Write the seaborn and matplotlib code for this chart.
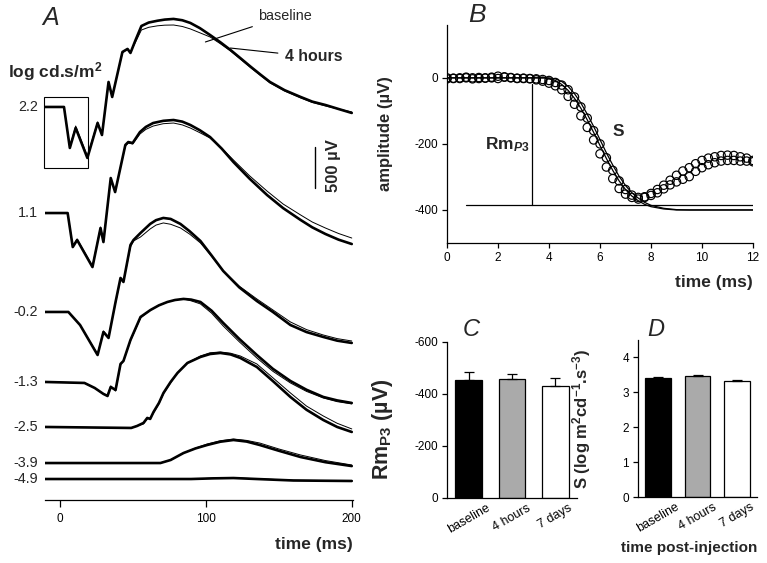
import numpy as np
import pandas as pd
import matplotlib
matplotlib.use("Agg")
import matplotlib.pyplot as plt
from matplotlib.patches import Rectangle
import seaborn as sns

# ---------------- Panel A: ERG traces, ms vs uV (relative to pre-flash level) ----------------
intensities = ["2.2", "1.1", "-0.2", "-1.3", "-2.5", "-3.9", "-4.9"]

t_22 = [-10, 3, 7, 11, 19, 26, 29, 33.5, 36, 43, 46.5, 48.5, 52, 56, 61, 67, 72, 78, 84, 89.5,
        96, 103, 110, 117, 124, 131, 137.5, 144, 154, 165, 173, 182, 191, 200]
h4_22 = [0, 0, -500, -256, -622, -195, -342, 305, 122, 671, 708, 659, 817, 988, 1030, 1052, 1066, 1074, 1058, 1025,
         962, 878, 790, 695, 592, 488, 395, 305, 205, 122, 65, 24, -25, -73]
base_22 = [0, 0, -488, -232, -598, -183, -329, 293, 134, 659, 708, 671, 793, 939, 972, 990, 998, 1000, 982, 952,
           905, 854, 772, 683, 580, 476, 384, 293, 195, 110, 55, 12, -25, -61]

t_11 = [-10, 5.5, 9, 12, 22.5, 28, 30, 35, 38, 45, 47, 50, 55, 59, 64, 71, 78, 84, 89.5,
        96, 103, 111, 119, 130, 142, 153, 165, 173, 182, 191, 200]
h4_11 = [0, 0, -415, -329, -659, -183, -354, 427, 256, 830, 866, 854, 988, 1050, 1098, 1125, 1135, 1115, 1074,
         1010, 927, 785, 622, 420, 220, 60, -85, -175, -256, -325, -378]
base_11 = [0, 0, -403, -317, -647, -171, -342, 415, 268, 818, 854, 842, 964, 1020, 1061, 1090, 1098, 1075, 1037,
           980, 915, 790, 647, 455, 268, 110, -24, -110, -183, -250, -305]

t_m02 = [-10, 6, 14, 18, 26, 30, 33.5, 38.3, 41.7, 43.7, 48.5, 50.6, 55.4, 62, 66, 71, 76, 82.7, 89,
         96.4, 104, 112, 123, 135, 146, 158, 169, 180.5, 190, 200]
h4_m02 = [0, 0, -159, -281, -525, -244, -317, 122, 415, 366, 817, 878, 964, 1074, 1120, 1147, 1135, 1074, 985,
          866, 690, 500, 300, 134, 0, -159, -245, -305, -350, -378]
base_m02 = [0, 0, -159, -281, -513, -232, -305, 110, 403, 366, 793, 866, 915, 1013, 1060, 1086, 1070, 1025, 950,
            842, 680, 500, 315, 159, 25, -122, -215, -281, -325, -354]

t_m13 = [-10, 17, 24, 30, 32.8, 35, 38.3, 41.7, 43.7, 48.5, 55.4, 62.2, 68, 73.8, 79, 84.8, 90,
         96.4, 104, 112, 123, 135, 146, 158, 169, 180.5, 190, 200]
h4_m13 = [0, -12, -73, -146, -171, -61, -98, 220, 256, 512, 793, 878, 935, 976, 1000, 1013, 1005,
          976, 870, 720, 525, 329, 160, 12, -95, -183, -225, -256]
base_m13 = [0, -12, -73, -146, -159, -49, -110, 207, 256, 500, 781, 878, 935, 976, 1000, 1013, 990,
            952, 840, 683, 490, 293, 130, -12, -115, -195, -240, -268]

t_m25 = [-10, 49, 53, 57.4, 60, 62, 64.3, 68, 71.1, 76, 80.7, 87.5, 96.4, 103, 110, 117, 123.7, 129,
         135, 146, 158, 169, 180.5, 190, 200]
h4_m25 = [0, -12, 12, 49, 110, 98, 183, 293, 415, 549, 659, 781, 854, 890, 903, 885, 842, 790,
          732, 560, 366, 210, 85, 0, -61]
base_m25 = [0, -12, 12, 37, 98, 110, 171, 281, 403, 537, 659, 781, 866, 905, 915, 900, 866, 820,
            769, 600, 415, 255, 134, 45, -24]

t_m39 = [-10, 69, 76, 84.8, 93, 101, 110, 119, 128, 137, 150, 165, 182, 200]
h4_m39 = [0, 0, 37, 122, 178, 220, 260, 281, 262, 220, 150, 73, 10, -37]
base_m39 = [0, 0, 37, 122, 182, 232, 272, 293, 276, 244, 172, 98, 30, -24]

t_m49 = [-10, 90, 105, 119, 135, 160, 200]
h4_m49 = [0, 0, 8, 12, 0, -18, -24]
base_m49 = [0, 0, 10, 15, 3, -15, -22]

trace_times = [t_22, t_11, t_m02, t_m13, t_m25, t_m39, t_m49]
trace_4h = [h4_22, h4_11, h4_m02, h4_m13, h4_m25, h4_m39, h4_m49]
trace_base = [base_22, base_11, base_m02, base_m13, base_m25, base_m39, base_m49]

# vertical stacking of the traces (layout, in uV)
stack_offsets = [4795, 3501, 2294, 1440, 891, 451, 256]

# ---------------- Panel B: a-wave leading edge with model fits ----------------
b_time = [0, 0.25, 0.5, 0.75, 1, 1.25, 1.5, 1.75, 2, 2.25, 2.5, 2.75, 3, 3.25, 3.5, 3.75,
          4, 4.25, 4.5, 4.75, 5, 5.25, 5.5, 5.75, 6, 6.25, 6.5, 6.75, 7, 7.25, 7.5, 7.75,
          8, 8.25, 8.5, 8.75, 9, 9.25, 9.5, 9.75, 10, 10.25, 10.5, 10.75, 11, 11.25, 11.5, 11.75, 12]
b_circ_a = [-3, -2, 0, 2, 0, 1, -1, 2, 5, 3, 1, -1, -2, -3, -6, -10,
            -16, -24, -36, -56, -80, -115, -150, -188, -230, -270, -305, -335, -352, -362, -367, -360,
            -350, -338, -325, -310, -295, -282, -272, -260, -250, -243, -239, -235, -234, -235, -239, -243, -250]
b_circ_b = [0, -1, -2, 0, -3, -2, 0, 0, -2, 2, 0, -2, -1, -2, -3, -5,
            -8, -14, -22, -36, -58, -88, -122, -160, -200, -242, -280, -312, -338, -355, -362, -362,
            -356, -348, -336, -324, -315, -307, -299, -283, -272, -263, -257, -252, -250, -250, -252, -252, -254]

fit_time = [0, 3.8, 4.0, 4.25, 4.5, 4.75, 5.0, 5.25, 5.5, 5.75, 6.0, 6.25, 6.5, 6.75,
            7.0, 7.25, 7.5, 7.75, 8.0, 8.5, 9.0, 9.5, 10.0, 12.0]
fit_a = [0, 0, -2, -8, -20, -38, -62, -92, -127, -165, -205, -244, -280, -312,
         -338, -358, -372, -383, -390, -397, -400, -400, -400, -400]
fit_b = [0, 0, 0, -3, -11, -26, -48, -76, -110, -147, -187, -227, -264, -298,
         -326, -348, -364, -377, -386, -395, -399, -400, -400, -400]

rm_level = -385
rm_time = 3.35

# ---------------- Panels C and D: group summaries ----------------
conditions = ["baseline", "4 hours", "7 days"]
rm_mean = [-454, -458, -431]
rm_err = [31, 19, 31]
s_mean = [3.41, 3.46, 3.33]
s_err = [0.02, 0.03, 0.02]
bar_colors = ["black", "#aaaaaa", "white"]

# ---------------- style ----------------
sns.set_theme(style="ticks")
plt.rcParams["font.family"] = ["Liberation Sans", "DejaVu Sans"]
plt.rcParams["axes.unicode_minus"] = False
plt.rcParams["mathtext.fontset"] = "custom"
plt.rcParams["mathtext.rm"] = "Liberation Sans:bold"
plt.rcParams["mathtext.bf"] = "Liberation Sans:bold"
plt.rcParams["mathtext.it"] = "Liberation Sans:italic:bold"

W, H = 767, 563
fig = plt.figure(figsize=(W / 100, H / 100), dpi=100)
fig.patch.set_facecolor("white")


def fig_box(left, top, right, bottom):
    return [left / W, 1 - bottom / H, (right - left) / W, (bottom - top) / H]


def style_spines(ax, keep):
    for side in ["left", "right", "top", "bottom"]:
        ax.spines[side].set_visible(side in keep)
        ax.spines[side].set_color("black")
        ax.spines[side].set_linewidth(0.9)


# ---- Panel A ----
axA = fig.add_axes(fig_box(45, 5, 352.5, 500))
for name, t, base, h4, off in zip(intensities, trace_times, trace_base, trace_4h, stack_offsets):
    sns.lineplot(x=t, y=np.add(h4, off), ax=axA, color="black", lw=1.9,
                 estimator=None, sort=False)
    sns.lineplot(x=t, y=np.add(base, off), ax=axA, color="black", lw=0.7,
                 estimator=None, sort=False)
    axA.text(-15, off, name, ha="right", va="center", fontsize=10.4, clip_on=False)

axA.set_xlim(-10, 200.5)
axA.set_ylim(0, 495 * 12.2)
style_spines(axA, ["bottom"])
axA.set_yticks([])
axA.set_xticks([0, 100, 200])
axA.tick_params(axis="x", length=5, width=0.9, labelsize=8.5, pad=4, color="black")
axA.set_xlabel("time (ms)", fontsize=12.5, fontweight="bold", loc="right", labelpad=9)
axA.set_ylabel("")

axA.add_patch(Rectangle((-10.9, 4050), 30, 867, fill=False, lw=0.8, ec="black", clip_on=False))
axA.text(-35.5, 5222, "log cd.s/m$^{2}$", ha="left", va="center", fontsize=12.5,
         fontweight="bold", clip_on=False)
axA.annotate("baseline", xy=(99.8, 5588), xytext=(136, 5905), ha="left", va="center",
             fontsize=10.4, arrowprops=dict(arrowstyle="-", lw=0.8, color="black",
                                            shrinkA=2, shrinkB=0))
axA.annotate("4 hours", xy=(116.9, 5514), xytext=(154.5, 5405), ha="left", va="center",
             fontsize=11.4, fontweight="bold",
             arrowprops=dict(arrowstyle="-", lw=0.8, color="black", shrinkA=3, shrinkB=0))
scale_uv = 500
axA.plot([175, 175], [3806, 3806 + scale_uv], color="black", lw=1.0)
axA.text(187.3, 4080, "500 µV", rotation=90, ha="center", va="center",
         fontsize=12, fontweight="bold")
fig.text(42 / W, 1 - 6 / H, "A", fontsize=18, style="italic", va="top", ha="left")

# ---- Panel B ----
axB = fig.add_axes(fig_box(447, 25, 753, 243))
sns.lineplot(x=fit_time, y=fit_a, ax=axB, color="black", lw=0.9, estimator=None, sort=False)
sns.lineplot(x=fit_time, y=fit_b, ax=axB, color="black", lw=0.9, estimator=None, sort=False)
for series in [b_circ_a, b_circ_b]:
    sns.scatterplot(x=b_time, y=series, ax=axB, marker="o", s=36, color="black",
                    facecolor="none", edgecolor="black", linewidth=0.85, zorder=3)
axB.plot([0.75, 12], [rm_level, rm_level], color="black", lw=0.9)
axB.plot([rm_time, rm_time], [-20, rm_level], color="black", lw=0.9)
axB.text(1.49, -201, "Rm$_{\\mathit{P3}}$", ha="left", va="center", fontsize=12.5,
         fontweight="bold")
axB.text(6.5, -162, "S", ha="left", va="center", fontsize=12.5, fontweight="bold")

axB.set_xlim(0, 12)
axB.set_ylim(-500, 160)
axB.set_xticks([0, 2, 4, 6, 8, 10, 12])
axB.set_yticks([-400, -200, 0])
style_spines(axB, ["left", "bottom"])
axB.tick_params(length=3.5, width=0.9, labelsize=8.5, pad=3, color="black")
axB.set_xlabel("time (ms)", fontsize=12.5, fontweight="bold", loc="right", labelpad=8)
axB.set_ylabel("amplitude (µV)", fontsize=12, fontweight="bold")
axB.yaxis.set_label_coords(-0.176, 0.5)
fig.text(468 / W, 1 - 3 / H, "B", fontsize=19, style="italic", va="top", ha="left")

# ---- Panel C ----
axC = fig.add_axes(fig_box(447, 342, 577, 498))
dfC = pd.DataFrame({"time": conditions, "rm": rm_mean})
sns.barplot(data=dfC, x="time", y="rm", hue="time", palette=bar_colors, legend=False,
            edgecolor="black", linewidth=0.9, width=0.62, errorbar=None, ax=axC)
axC.errorbar(x=[0, 1, 2], y=rm_mean, yerr=[rm_err, [0, 0, 0]], fmt="none",
             ecolor="black", elinewidth=0.9, capsize=3.5, capthick=0.9)
axC.set_ylim(0, -600)
axC.set_yticks([0, -200, -400, -600])
axC.set_xlim(-0.5, 2.5)
style_spines(axC, ["left", "bottom"])
axC.tick_params(axis="y", length=3.5, width=0.9, labelsize=8.5, pad=3, color="black")
axC.tick_params(axis="x", length=0, labelsize=9, pad=3, labelrotation=30)
axC.set_xlabel("")
axC.set_ylabel("Rm$_{\\mathrm{P3}}$ (µV)", fontsize=15.5, fontweight="bold")
axC.yaxis.set_label_coords(-0.40, 0.44)
fig.text(463 / W, 1 - 318 / H, "C", fontsize=17, style="italic", va="top", ha="left")

# ---- Panel D ----
axD = fig.add_axes(fig_box(638, 340, 757, 497))
dfD = pd.DataFrame({"time": conditions, "s": s_mean})
sns.barplot(data=dfD, x="time", y="s", hue="time", palette=bar_colors, legend=False,
            edgecolor="black", linewidth=0.9, width=0.65, errorbar=None, ax=axD)
axD.errorbar(x=[0, 1, 2], y=s_mean, yerr=[[0, 0, 0], s_err], fmt="none",
             ecolor="black", elinewidth=0.9, capsize=3.5, capthick=0.9)
axD.set_ylim(0, 4.5)
axD.set_yticks([0, 1, 2, 3, 4])
axD.set_xlim(-0.5, 2.5)
style_spines(axD, ["left", "bottom"])
axD.tick_params(axis="y", length=3.5, width=0.9, labelsize=8.5, pad=3, color="black")
axD.tick_params(axis="x", length=0, labelsize=9, pad=3, labelrotation=30)
axD.set_xlabel("time post-injection", fontsize=11, fontweight="bold", loc="right", labelpad=4)
axD.set_ylabel("S (log m$^{2}$cd$^{-1}$.s$^{-3}$)", fontsize=12, fontweight="bold")
axD.yaxis.set_label_coords(-0.378, 0.5)
fig.text(647 / W, 1 - 318 / H, "D", fontsize=17, style="italic", va="top", ha="left")

for ax in [axA, axB, axC, axD]:
    ax.set_facecolor("white")
    for lbl in ax.get_xticklabels() + ax.get_yticklabels():
        lbl.set_color("black")

fig.savefig("out.png", dpi=100, facecolor="white")
